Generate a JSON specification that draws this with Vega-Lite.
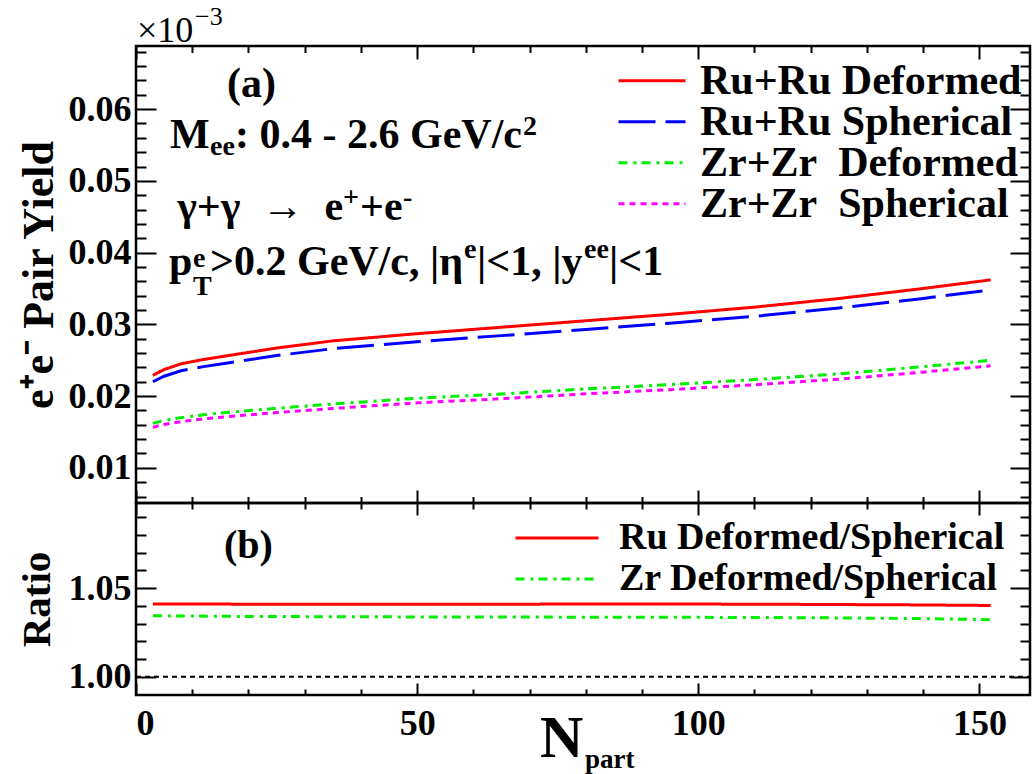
{
  "$schema": "https://vega.github.io/schema/vega-lite/v6.json",
  "background": "white",
  "padding": {"left": 14, "top": 2, "right": 0, "bottom": 0},
  "spacing": 0,
  "bounds": "flush",
  "datasets": {
    "yield": [
      {"N": 3, "v": 0.0229, "s": "Ru+Ru Deformed"},
      {"N": 5, "v": 0.0237, "s": "Ru+Ru Deformed"},
      {"N": 8, "v": 0.0245, "s": "Ru+Ru Deformed"},
      {"N": 12, "v": 0.0251, "s": "Ru+Ru Deformed"},
      {"N": 16, "v": 0.0256, "s": "Ru+Ru Deformed"},
      {"N": 25, "v": 0.0267, "s": "Ru+Ru Deformed"},
      {"N": 35, "v": 0.0277, "s": "Ru+Ru Deformed"},
      {"N": 50, "v": 0.0287, "s": "Ru+Ru Deformed"},
      {"N": 65, "v": 0.0296, "s": "Ru+Ru Deformed"},
      {"N": 80, "v": 0.0305, "s": "Ru+Ru Deformed"},
      {"N": 95, "v": 0.0314, "s": "Ru+Ru Deformed"},
      {"N": 110, "v": 0.0324, "s": "Ru+Ru Deformed"},
      {"N": 125, "v": 0.0336, "s": "Ru+Ru Deformed"},
      {"N": 140, "v": 0.0350, "s": "Ru+Ru Deformed"},
      {"N": 152, "v": 0.0362, "s": "Ru+Ru Deformed"},
      {"N": 3, "v": 0.02200, "s": "Ru+Ru Spherical"},
      {"N": 5, "v": 0.02277, "s": "Ru+Ru Spherical"},
      {"N": 8, "v": 0.02354, "s": "Ru+Ru Spherical"},
      {"N": 12, "v": 0.02411, "s": "Ru+Ru Spherical"},
      {"N": 16, "v": 0.02459, "s": "Ru+Ru Spherical"},
      {"N": 25, "v": 0.02565, "s": "Ru+Ru Spherical"},
      {"N": 35, "v": 0.02661, "s": "Ru+Ru Spherical"},
      {"N": 50, "v": 0.02757, "s": "Ru+Ru Spherical"},
      {"N": 65, "v": 0.02843, "s": "Ru+Ru Spherical"},
      {"N": 80, "v": 0.02930, "s": "Ru+Ru Spherical"},
      {"N": 95, "v": 0.03016, "s": "Ru+Ru Spherical"},
      {"N": 110, "v": 0.03112, "s": "Ru+Ru Spherical"},
      {"N": 125, "v": 0.03228, "s": "Ru+Ru Spherical"},
      {"N": 140, "v": 0.03362, "s": "Ru+Ru Spherical"},
      {"N": 152, "v": 0.03480, "s": "Ru+Ru Spherical"},
      {"N": 3, "v": 0.0162, "s": "Zr+Zr\u00a0 Deformed"},
      {"N": 5, "v": 0.0166, "s": "Zr+Zr\u00a0 Deformed"},
      {"N": 8, "v": 0.0170, "s": "Zr+Zr\u00a0 Deformed"},
      {"N": 12, "v": 0.0174, "s": "Zr+Zr\u00a0 Deformed"},
      {"N": 16, "v": 0.0177, "s": "Zr+Zr\u00a0 Deformed"},
      {"N": 25, "v": 0.0183, "s": "Zr+Zr\u00a0 Deformed"},
      {"N": 35, "v": 0.0189, "s": "Zr+Zr\u00a0 Deformed"},
      {"N": 50, "v": 0.0197, "s": "Zr+Zr\u00a0 Deformed"},
      {"N": 65, "v": 0.0203, "s": "Zr+Zr\u00a0 Deformed"},
      {"N": 80, "v": 0.0210, "s": "Zr+Zr\u00a0 Deformed"},
      {"N": 95, "v": 0.0216, "s": "Zr+Zr\u00a0 Deformed"},
      {"N": 110, "v": 0.0223, "s": "Zr+Zr\u00a0 Deformed"},
      {"N": 125, "v": 0.0231, "s": "Zr+Zr\u00a0 Deformed"},
      {"N": 140, "v": 0.0241, "s": "Zr+Zr\u00a0 Deformed"},
      {"N": 152, "v": 0.0250, "s": "Zr+Zr\u00a0 Deformed"},
      {"N": 3, "v": 0.01567, "s": "Zr+Zr\u00a0 Spherical"},
      {"N": 5, "v": 0.01605, "s": "Zr+Zr\u00a0 Spherical"},
      {"N": 8, "v": 0.01644, "s": "Zr+Zr\u00a0 Spherical"},
      {"N": 12, "v": 0.01683, "s": "Zr+Zr\u00a0 Spherical"},
      {"N": 16, "v": 0.01712, "s": "Zr+Zr\u00a0 Spherical"},
      {"N": 25, "v": 0.01770, "s": "Zr+Zr\u00a0 Spherical"},
      {"N": 35, "v": 0.01828, "s": "Zr+Zr\u00a0 Spherical"},
      {"N": 50, "v": 0.01906, "s": "Zr+Zr\u00a0 Spherical"},
      {"N": 65, "v": 0.01964, "s": "Zr+Zr\u00a0 Spherical"},
      {"N": 80, "v": 0.02032, "s": "Zr+Zr\u00a0 Spherical"},
      {"N": 95, "v": 0.02090, "s": "Zr+Zr\u00a0 Spherical"},
      {"N": 110, "v": 0.02158, "s": "Zr+Zr\u00a0 Spherical"},
      {"N": 125, "v": 0.02236, "s": "Zr+Zr\u00a0 Spherical"},
      {"N": 140, "v": 0.02334, "s": "Zr+Zr\u00a0 Spherical"},
      {"N": 152, "v": 0.02422, "s": "Zr+Zr\u00a0 Spherical"}
    ],
    "ratio": [
      {"N": 3, "r": 1.0411, "s": "Ru Deformed/Spherical"},
      {"N": 10, "r": 1.0411, "s": "Ru Deformed/Spherical"},
      {"N": 20, "r": 1.0409, "s": "Ru Deformed/Spherical"},
      {"N": 40, "r": 1.0409, "s": "Ru Deformed/Spherical"},
      {"N": 60, "r": 1.0409, "s": "Ru Deformed/Spherical"},
      {"N": 80, "r": 1.0410, "s": "Ru Deformed/Spherical"},
      {"N": 100, "r": 1.0410, "s": "Ru Deformed/Spherical"},
      {"N": 120, "r": 1.0408, "s": "Ru Deformed/Spherical"},
      {"N": 140, "r": 1.0405, "s": "Ru Deformed/Spherical"},
      {"N": 152, "r": 1.0402, "s": "Ru Deformed/Spherical"},
      {"N": 3, "r": 1.0344, "s": "Zr Deformed/Spherical"},
      {"N": 20, "r": 1.0340, "s": "Zr Deformed/Spherical"},
      {"N": 40, "r": 1.0338, "s": "Zr Deformed/Spherical"},
      {"N": 60, "r": 1.0337, "s": "Zr Deformed/Spherical"},
      {"N": 80, "r": 1.0336, "s": "Zr Deformed/Spherical"},
      {"N": 100, "r": 1.0335, "s": "Zr Deformed/Spherical"},
      {"N": 120, "r": 1.0333, "s": "Zr Deformed/Spherical"},
      {"N": 140, "r": 1.0328, "s": "Zr Deformed/Spherical"},
      {"N": 152, "r": 1.0322, "s": "Zr Deformed/Spherical"}
    ],
    "ref": [{"N": 0, "r": 1.0}, {"N": 159, "r": 1.0}],
    "bigLeft": [
      {"x": 16.18, "y": 0.06169, "t": "(a)"},
      {"x": 6.05, "y": 0.05458, "t": "M"},
      {"x": 17.61, "y": 0.05458, "t": ": 0.4 - 2.6 GeV/c"},
      {"x": 39.84, "y": 0.04455, "t": "+e"},
      {"x": 5.87, "y": 0.03688, "t": "p"},
      {"x": 60.65, "y": 0.03688, "t": "|<1, |y"},
      {"x": 84.13, "y": 0.03688, "t": "|<1"}
    ],
    "bigRight": [
      {"x": 36.82, "y": 0.04455, "t": "γ+γ\u00a0 → \u00a0e"},
      {"x": 58.16, "y": 0.03688, "t": ">0.2 GeV/c, |η"}
    ],
    "smallTop": [
      {"x": 13.16, "y": 0.05361, "t": "ee"},
      {"x": 68.83, "y": 0.05639, "t": "2"},
      {"x": 36.82, "y": 0.04650, "t": "+"},
      {"x": 47.49, "y": 0.04650, "t": "-"},
      {"x": 10.14, "y": 0.03799, "t": "e"},
      {"x": 10.14, "y": 0.03409, "t": "T"},
      {"x": 58.34, "y": 0.03925, "t": "e"},
      {"x": 79.70, "y": 0.03925, "t": "ee"}
    ],
    "times": [{"x": 0.18, "y": 0.06936, "t": "×10"}],
    "expo": [{"x": 10.49, "y": 0.07173, "t": "−3"}],
    "labB": [{"x": 15.65, "y": 1.067, "t": "(b)"}],
    "labN": [{"x": 71.85, "y": 0.9547, "t": "N"}],
    "labPart": [{"x": 79.86, "y": 0.9485, "t": "part"}]
  },
  "resolve": {"scale": {"x": "independent", "y": "independent", "color": "independent", "strokeDash": "independent"}},
  "vconcat": [
    {
      "width": 894,
      "height": 457,
      "resolve": {"axis": {"x": "independent", "y": "independent"}},
      "layer": [
        {
          "data": {"name": "yield"},
          "mark": {"type": "line", "strokeWidth": 3},
          "encoding": {
            "x": {"field": "N", "type": "quantitative", "scale": {"domain": [0, 159], "nice": false, "zero": false},
                  "axis": {"orient": "bottom", "values": [0, 50, 100, 150], "labels": false, "tickSize": -13, "title": null}},
            "y": {"field": "v", "type": "quantitative", "scale": {"domain": [0.0051, 0.0688], "nice": false, "zero": false},
                  "axis": {"orient": "left", "values": [0.01, 0.02, 0.03, 0.04, 0.05, 0.06], "ticks": false, "tickSize": 0, "labelPadding": 5, "format": ".2f", "title": "e⁺e⁻ Pair Yield", "titleFontSize": 44, "titlePadding": 7}},
            "color": {"field": "s", "type": "nominal",
                      "scale": {"domain": ["Ru+Ru Deformed", "Ru+Ru Spherical", "Zr+Zr\u00a0 Deformed", "Zr+Zr\u00a0 Spherical"], "range": ["#ff0000", "#0000ff", "#00ee00", "#ff00ff"]},
                      "legend": {"title": null, "orient": "none", "legendX": 481, "legendY": 15, "symbolType": "stroke", "symbolSize": 4489, "symbolStrokeWidth": 3, "clipHeight": 39.5, "rowPadding": -3.5, "padding": 0, "labelOffset": 13, "labelFontSize": 42, "labelLimit": 1000}},
            "strokeDash": {"field": "s", "type": "nominal",
                      "scale": {"domain": ["Ru+Ru Deformed", "Ru+Ru Spherical", "Zr+Zr\u00a0 Deformed", "Zr+Zr\u00a0 Spherical"], "range": [[1, 0], [37, 10], [9, 6, 3, 5], [6, 5]]},
                      "legend": {"title": null, "orient": "none", "legendX": 481, "legendY": 15, "symbolType": "stroke", "symbolSize": 4489, "symbolStrokeWidth": 3, "clipHeight": 39.5, "rowPadding": -3.5, "padding": 0, "labelOffset": 13, "labelFontSize": 42, "labelLimit": 1000}}
          }
        },
        {
          "data": {"name": "bigLeft"},
          "mark": {"type": "text", "fontSize": 42, "align": "left", "baseline": "alphabetic"},
          "encoding": {
            "x": {"field": "x", "type": "quantitative", "scale": {"domain": [0, 159], "nice": false, "zero": false},
                  "axis": {"orient": "bottom", "values": [10, 20, 30, 40, 60, 70, 80, 90, 110, 120, 130, 140], "labels": false, "tickSize": -6.5, "title": null}},
            "y": {"field": "y", "type": "quantitative", "scale": {"domain": [0.0051, 0.0688], "nice": false, "zero": false},
                  "axis": {"orient": "left", "values": [0.01, 0.02, 0.03, 0.04, 0.05, 0.06], "labels": false, "tickSize": -20, "title": null}},
            "text": {"field": "t"}
          }
        },
        {
          "data": {"name": "bigRight"},
          "mark": {"type": "text", "fontSize": 42, "align": "right", "baseline": "alphabetic"},
          "encoding": {
            "x": {"field": "x", "type": "quantitative", "scale": {"domain": [0, 159], "nice": false, "zero": false}, "axis": null},
            "y": {"field": "y", "type": "quantitative", "scale": {"domain": [0.0051, 0.0688], "nice": false, "zero": false}, "axis": null},
            "text": {"field": "t"}
          }
        },
        {
          "data": {"name": "smallTop"},
          "mark": {"type": "text", "fontSize": 28, "align": "left", "baseline": "alphabetic"},
          "encoding": {
            "x": {"field": "x", "type": "quantitative", "scale": {"domain": [0, 159], "nice": false, "zero": false},
                  "axis": {"orient": "top", "values": [0, 50, 100, 150], "labels": false, "tickSize": -13, "title": null}},
            "y": {"field": "y", "type": "quantitative", "scale": {"domain": [0.0051, 0.0688], "nice": false, "zero": false},
                  "axis": {"orient": "left", "values": [0.006, 0.008, 0.012, 0.014, 0.016, 0.018, 0.022, 0.024, 0.026, 0.028, 0.032, 0.034, 0.036, 0.038, 0.042, 0.044, 0.046, 0.048, 0.052, 0.054, 0.056, 0.058, 0.062, 0.064, 0.066, 0.068], "labels": false, "tickSize": -10, "title": null}},
            "text": {"field": "t"}
          }
        },
        {
          "data": {"name": "times"},
          "mark": {"type": "text", "fontSize": 36, "fontWeight": "normal", "align": "left", "baseline": "alphabetic"},
          "encoding": {
            "x": {"field": "x", "type": "quantitative", "scale": {"domain": [0, 159], "nice": false, "zero": false},
                  "axis": {"orient": "top", "values": [10, 20, 30, 40, 60, 70, 80, 90, 110, 120, 130, 140], "labels": false, "tickSize": -6.5, "title": null}},
            "y": {"field": "y", "type": "quantitative", "scale": {"domain": [0.0051, 0.0688], "nice": false, "zero": false},
                  "axis": {"orient": "right", "values": [0.01, 0.02, 0.03, 0.04, 0.05, 0.06], "labels": false, "tickSize": -20, "title": null}},
            "text": {"field": "t"}
          }
        },
        {
          "data": {"name": "expo"},
          "mark": {"type": "text", "fontSize": 26, "fontWeight": "normal", "align": "left", "baseline": "alphabetic"},
          "encoding": {
            "x": {"field": "x", "type": "quantitative", "scale": {"domain": [0, 159], "nice": false, "zero": false}, "axis": null},
            "y": {"field": "y", "type": "quantitative", "scale": {"domain": [0.0051, 0.0688], "nice": false, "zero": false},
                  "axis": {"orient": "right", "values": [0.006, 0.008, 0.012, 0.014, 0.016, 0.018, 0.022, 0.024, 0.026, 0.028, 0.032, 0.034, 0.036, 0.038, 0.042, 0.044, 0.046, 0.048, 0.052, 0.054, 0.056, 0.058, 0.062, 0.064, 0.066, 0.068], "labels": false, "tickSize": -10, "title": null}},
            "text": {"field": "t"}
          }
        }
      ]
    },
    {
      "width": 894,
      "height": 192,
      "resolve": {"axis": {"x": "independent", "y": "independent"}},
      "layer": [
        {
          "data": {"name": "ratio"},
          "mark": {"type": "line", "strokeWidth": 3},
          "encoding": {
            "x": {"field": "N", "type": "quantitative", "scale": {"domain": [0, 159], "nice": false, "zero": false},
                  "axis": {"orient": "bottom", "values": [0, 50, 100, 150], "ticks": false, "tickSize": 0, "labelPadding": 11, "title": null}},
            "y": {"field": "r", "type": "quantitative", "scale": {"domain": [0.9897, 1.098], "nice": false, "zero": false},
                  "axis": {"orient": "left", "values": [1.0, 1.05], "ticks": false, "tickSize": 0, "labelPadding": 5, "format": ".2f", "title": "Ratio", "titleFontSize": 41, "titlePadding": 10}},
            "color": {"field": "s", "type": "nominal",
                      "scale": {"domain": ["Ru Deformed/Spherical", "Zr Deformed/Spherical"], "range": ["#ff0000", "#00ee00"]},
                      "legend": {"title": null, "orient": "none", "legendX": 378, "legendY": 14.5, "symbolType": "stroke", "symbolSize": 6889, "symbolStrokeWidth": 3, "clipHeight": 41, "rowPadding": 0, "padding": 0, "labelOffset": 19, "labelFontSize": 38, "labelLimit": 1000}},
            "strokeDash": {"field": "s", "type": "nominal",
                      "scale": {"domain": ["Ru Deformed/Spherical", "Zr Deformed/Spherical"], "range": [[1, 0], [9, 6, 3, 5]]},
                      "legend": {"title": null, "orient": "none", "legendX": 378, "legendY": 14.5, "symbolType": "stroke", "symbolSize": 6889, "symbolStrokeWidth": 3, "clipHeight": 41, "rowPadding": 0, "padding": 0, "labelOffset": 19, "labelFontSize": 38, "labelLimit": 1000}}
          }
        },
        {
          "data": {"name": "labB"},
          "mark": {"type": "text", "fontSize": 40, "align": "left", "baseline": "alphabetic"},
          "encoding": {
            "x": {"field": "x", "type": "quantitative", "scale": {"domain": [0, 159], "nice": false, "zero": false},
                  "axis": {"orient": "bottom", "values": [0, 50, 100, 150], "labels": false, "tickSize": -12, "title": null}},
            "y": {"field": "y", "type": "quantitative", "scale": {"domain": [0.9897, 1.098], "nice": false, "zero": false},
                  "axis": {"orient": "left", "values": [1.0, 1.05], "labels": false, "tickSize": -20, "title": null}},
            "text": {"field": "t"}
          }
        },
        {
          "data": {"name": "labN"},
          "mark": {"type": "text", "fontSize": 60, "align": "left", "baseline": "alphabetic"},
          "encoding": {
            "x": {"field": "x", "type": "quantitative", "scale": {"domain": [0, 159], "nice": false, "zero": false},
                  "axis": {"orient": "bottom", "values": [10, 20, 30, 40, 60, 70, 80, 90, 110, 120, 130, 140], "labels": false, "tickSize": -6, "title": null}},
            "y": {"field": "y", "type": "quantitative", "scale": {"domain": [0.9897, 1.098], "nice": false, "zero": false},
                  "axis": {"orient": "left", "values": [1.01, 1.02, 1.03, 1.04, 1.06, 1.07, 1.08, 1.09], "labels": false, "tickSize": -10, "title": null}},
            "text": {"field": "t"}
          }
        },
        {
          "data": {"name": "labPart"},
          "mark": {"type": "text", "fontSize": 27, "align": "left", "baseline": "alphabetic"},
          "encoding": {
            "x": {"field": "x", "type": "quantitative", "scale": {"domain": [0, 159], "nice": false, "zero": false},
                  "axis": {"orient": "top", "values": [0, 50, 100, 150], "labels": false, "tickSize": -12, "title": null}},
            "y": {"field": "y", "type": "quantitative", "scale": {"domain": [0.9897, 1.098], "nice": false, "zero": false},
                  "axis": {"orient": "right", "values": [1.0, 1.05], "labels": false, "tickSize": -20, "title": null}},
            "text": {"field": "t"}
          }
        },
        {
          "data": {"name": "ref"},
          "mark": {"type": "line", "color": "black", "strokeWidth": 2, "strokeDash": [5, 4]},
          "encoding": {
            "x": {"field": "N", "type": "quantitative", "scale": {"domain": [0, 159], "nice": false, "zero": false},
                  "axis": {"orient": "top", "values": [10, 20, 30, 40, 60, 70, 80, 90, 110, 120, 130, 140], "labels": false, "tickSize": -6, "title": null}},
            "y": {"field": "r", "type": "quantitative", "scale": {"domain": [0.9897, 1.098], "nice": false, "zero": false},
                  "axis": {"orient": "right", "values": [1.01, 1.02, 1.03, 1.04, 1.06, 1.07, 1.08, 1.09], "labels": false, "tickSize": -10, "title": null}}
          }
        }
      ]
    }
  ],
  "config": {
    "view": {"stroke": "black", "strokeWidth": 2.5},
    "axis": {"grid": false, "domain": false, "labelFont": "Liberation Serif, Times New Roman, serif", "labelFontWeight": "bold", "labelFontSize": 36, "labelColor": "black", "tickColor": "black", "tickWidth": 2, "titleFont": "Liberation Serif, Times New Roman, serif", "titleFontWeight": "bold", "titleColor": "black"},
    "legend": {"labelFont": "Liberation Serif, Times New Roman, serif", "labelFontWeight": "bold", "labelColor": "black"},
    "text": {"font": "Liberation Serif, Times New Roman, serif", "fontWeight": "bold", "color": "black"}
  }
}
